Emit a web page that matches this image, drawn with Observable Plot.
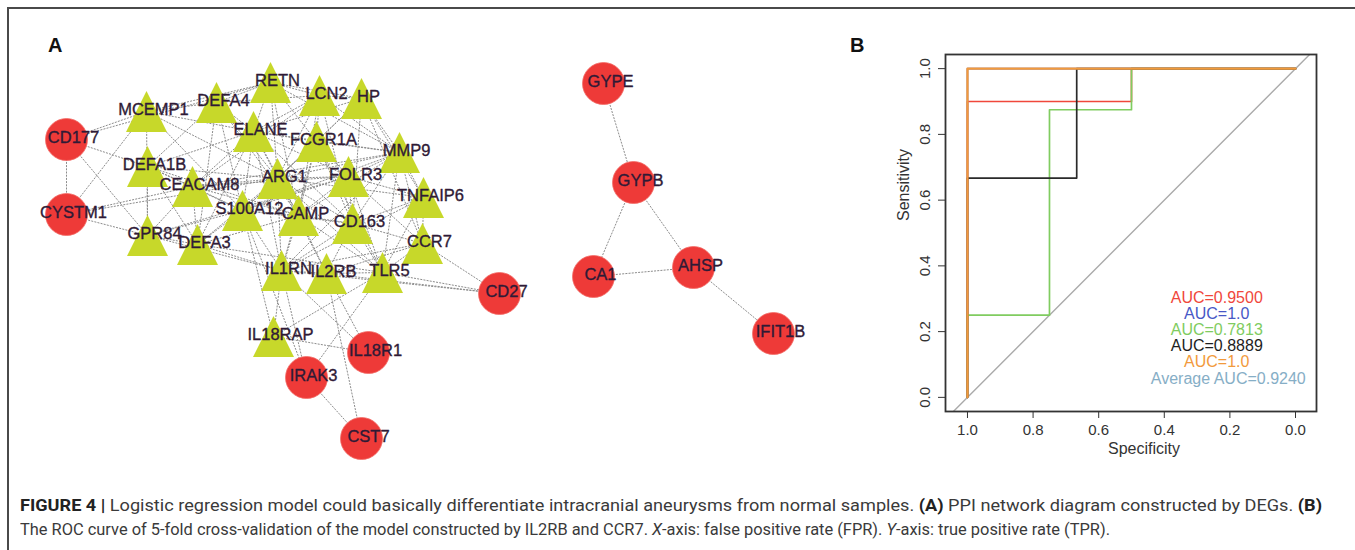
<!DOCTYPE html>
<html>
<head>
<meta charset="utf-8">
<script src="https://cdn.jsdelivr.net/npm/d3@7"></script>
<script src="https://cdn.jsdelivr.net/npm/@observablehq/plot@0.6"></script>
<style>
  html, body { margin: 0; padding: 0; background: #fff; }
  #fig { position: relative; width: 1355px; height: 550px; overflow: hidden; background: #fff; font-family: "Liberation Sans", Arial, sans-serif; }
  #frame { position: absolute; left: 7px; top: 7px; width: 1348px; height: 543px; border-top: 2px solid #4a4a4a; border-left: 2px solid #4a4a4a; }
  .panel { position: absolute; top: 0; }
  .plabel { position: absolute; font-weight: bold; font-size: 20px; color: #111; line-height: 20px; }
  .cap { position: absolute; left: 20px; font-family: Roboto, "Liberation Sans", sans-serif; font-size: 16px; color: #3a3a3a; white-space: nowrap; line-height: 24px; transform-origin: 0 50%; }
  .cap b { color: #222; }
</style>
</head>
<body>
<div id="fig">
  <div id="frame"></div>
  <div id="panelA" class="panel" style="left:0"></div>
  <div id="panelB" class="panel" style="left:830px"></div>
  <div class="plabel" style="left:48px;top:35px">A</div>
  <div class="plabel" style="left:850px;top:35px">B</div>
  <div id="cap1" class="cap" style="top:494px"><b>FIGURE 4 |</b> Logistic regression model could basically differentiate intracranial aneurysms from normal samples. <b>(A)</b> PPI network diagram constructed by DEGs. <b>(B)</b></div>
  <div id="cap2" class="cap" style="top:518px">The ROC curve of 5-fold cross-validation of the model constructed by IL2RB and CCR7. <i>X</i>-axis: false positive rate (FPR). <i>Y</i>-axis: true positive rate (TPR).</div>
</div>
<script>
// ---------- Panel A: PPI network (layout coordinates) ----------
const circleGenes = ["CD177","CYSTM1","GYPE","GYPB","CA1","AHSP","IFIT1B","CD27","IL18R1","IRAK3","CST7"];
const circleX = [66, 66, 603, 633, 593, 693, 773, 499, 368, 306, 361];
const circleY = [139, 214, 83, 182, 276, 267, 333, 293, 352, 377, 438];

const triGenes = ["RETN","DEFA4","MCEMP1","LCN2","HP","ELANE","FCGR1A","MMP9","DEFA1B","CEACAM8","ARG1","FOLR3","TNFAIP6","S100A12","CAMP","CD163","CCR7","GPR84","DEFA3","IL1RN","IL2RB","TLR5","IL18RAP"];
const triX = [270, 216, 146, 319, 361, 253, 316, 399, 147, 192, 277, 348, 423, 242, 298, 352, 422, 147, 197, 281, 326, 382, 273];
const triY = [82, 102, 111, 95, 98, 131, 141, 152, 166, 186, 178, 176, 197, 210, 215, 223, 243, 235, 244, 270, 273, 272, 336];

const edgeList = [
  "CD177-CYSTM1","CD177-MCEMP1","CD177-DEFA1B","CD177-GPR84","CD177-RETN",
  "CYSTM1-GPR84","CYSTM1-MCEMP1","CYSTM1-CEACAM8","CYSTM1-ARG1",
  "MCEMP1-DEFA4","MCEMP1-RETN","MCEMP1-ARG1","MCEMP1-GPR84","MCEMP1-ELANE","MCEMP1-S100A12",
  "DEFA4-RETN","DEFA4-ELANE","DEFA4-DEFA1B","DEFA4-DEFA3","DEFA4-CAMP","DEFA4-ARG1","DEFA4-LCN2","DEFA4-S100A12",
  "RETN-LCN2","RETN-HP","RETN-ELANE","RETN-MMP9","RETN-ARG1","RETN-FCGR1A","RETN-CAMP",
  "LCN2-HP","LCN2-ELANE","LCN2-MMP9","LCN2-FCGR1A","LCN2-CAMP","LCN2-ARG1","LCN2-CEACAM8","LCN2-CD163",
  "HP-MMP9","HP-FCGR1A","HP-ELANE","HP-CD163","HP-TNFAIP6","HP-CCR7","HP-ARG1",
  "ELANE-FCGR1A","ELANE-ARG1","ELANE-CEACAM8","ELANE-CAMP","ELANE-MMP9","ELANE-S100A12","ELANE-DEFA1B","ELANE-DEFA3","ELANE-FOLR3","ELANE-IL1RN","ELANE-CD163",
  "FCGR1A-MMP9","FCGR1A-ARG1","FCGR1A-FOLR3","FCGR1A-CD163","FCGR1A-S100A12","FCGR1A-CAMP","FCGR1A-IL1RN","FCGR1A-TLR5",
  "MMP9-FOLR3","MMP9-TNFAIP6","MMP9-ARG1","MMP9-S100A12","MMP9-CAMP","MMP9-CD163","MMP9-CCR7","MMP9-TLR5","MMP9-IL1RN","MMP9-CEACAM8",
  "DEFA1B-CEACAM8","DEFA1B-ARG1","DEFA1B-DEFA3","DEFA1B-GPR84","DEFA1B-S100A12","DEFA1B-CAMP",
  "CEACAM8-ARG1","CEACAM8-S100A12","CEACAM8-CAMP","CEACAM8-GPR84","CEACAM8-DEFA3","CEACAM8-FOLR3",
  "ARG1-FOLR3","ARG1-S100A12","ARG1-CAMP","ARG1-CD163","ARG1-IL1RN","ARG1-IL2RB","ARG1-TLR5","ARG1-TNFAIP6","ARG1-DEFA3",
  "FOLR3-TNFAIP6","FOLR3-CD163","FOLR3-CAMP","FOLR3-S100A12","FOLR3-CCR7","FOLR3-TLR5","FOLR3-GPR84",
  "TNFAIP6-CCR7","TNFAIP6-CD163","TNFAIP6-TLR5","TNFAIP6-IL1RN",
  "S100A12-CAMP","S100A12-GPR84","S100A12-DEFA3","S100A12-IL1RN","S100A12-IL18RAP","S100A12-CD163",
  "CAMP-CD163","CAMP-IL1RN","CAMP-IL2RB","CAMP-TLR5","CAMP-DEFA3",
  "CD163-CCR7","CD163-TLR5","CD163-IL1RN","CD163-IL2RB",
  "CCR7-TLR5","CCR7-IL2RB","CCR7-IL1RN","CCR7-CD27",
  "GPR84-DEFA3","GPR84-IL1RN","DEFA3-IL1RN","DEFA3-TLR5",
  "IL1RN-IL2RB","IL1RN-IL18RAP","IL1RN-IL18R1","IL1RN-IRAK3","IL1RN-CD27",
  "IL2RB-TLR5","IL2RB-CST7","IL2RB-IL18R1","IL2RB-CD27",
  "TLR5-CD27","TLR5-IRAK3","TLR5-IL18RAP",
  "IL18RAP-IL18R1","IRAK3-CST7","S100A12-IRAK3",
  "GYPE-GYPB","GYPB-CA1","GYPB-AHSP","CA1-AHSP","AHSP-IFIT1B"
];

const nodes = [
  ...circleGenes.map((g, i) => ({gene: g, x: circleX[i], y: circleY[i], shape: "circle"})),
  ...triGenes.map((g, i) => ({gene: g, x: triX[i], y: triY[i], shape: "triangle"}))
];
const pos = new Map(nodes.map(n => [n.gene, n]));
const edges = edgeList.map(e => { const [a, b] = e.split("-"); return {a: pos.get(a), b: pos.get(b)}; });

const triangleSymbol = {
  draw(ctx, size) {
    const r = Math.sqrt(size / Math.PI);
    ctx.moveTo(0, -r);
    ctx.lineTo(r, r);
    ctx.lineTo(-r, r);
    ctx.closePath();
  }
};

const W_A = 830, H_A = 470;
const plotA = Plot.plot({
  width: W_A, height: H_A,
  margin: 0,
  x: {domain: [0, W_A], range: [0, W_A], axis: null},
  y: {domain: [0, H_A], range: [0, H_A], axis: null},
  style: {background: "transparent", overflow: "visible"},
  marks: [
    Plot.link(edges, {x1: d => d.a.x, y1: d => d.a.y, x2: d => d.b.x, y2: d => d.b.y, stroke: "#8c8c8c", strokeWidth: 1, strokeDasharray: "2,1.2"}),
    Plot.dot(nodes.filter(n => n.shape === "circle"), {x: "x", y: "y", r: 21, fill: "#ee3a38", stroke: "#f26b66", strokeWidth: 0.8}),
    Plot.dot(nodes.filter(n => n.shape === "triangle"), {x: "x", y: "y", r: 20.5, symbol: triangleSymbol, fill: "#c7d82a"}),
    Plot.text(nodes, {x: "x", y: "y", text: "gene", dx: 7, dy: -2, fontSize: 16.5, fill: "#2f1a36", stroke: "#2f1a36", strokeWidth: 0.35, fontFamily: "'Liberation Sans', Arial, sans-serif"})
  ]
});
document.getElementById("panelA").appendChild(plotA);

// ---------- Panel B: ROC curves of 5-fold cross-validation ----------
const fold1Spec = [1, 1, 0.5, 0.5, 0];
const fold1Sens = [0, 0.9, 0.9, 1, 1];
const fold2Spec = [1, 1, 0];
const fold2Sens = [0, 1, 1];
const fold3Spec = [1, 1, 0.75, 0.75, 0.5, 0.5, 0];
const fold3Sens = [0, 0.25, 0.25, 0.875, 0.875, 1, 1];
const fold4Spec = [1, 1, 0.667, 0.667, 0];
const fold4Sens = [0, 0.667, 0.667, 1, 1];
const fold5Spec = [1, 1, 0];
const fold5Sens = [0, 1, 1];
const foldColors = ["#f0473b", "#4858c6", "#80cc60", "#2a2a2a", "#f29a3c"];
const aucLabels = ["AUC=0.9500", "AUC=1.0", "AUC=0.7813", "AUC=0.8889", "AUC=1.0", "Average AUC=0.9240"];
const aucColors = ["#f0473b", "#4858c6", "#80cc60", "#1e1e1e", "#f29a3c", "#86aec6"];
const xTicks = [1.0, 0.8, 0.6, 0.4, 0.2, 0.0];
const yTicks = [0.0, 0.2, 0.4, 0.6, 0.8, 1.0];
const diagSpec = [1.2, -0.2];
const diagSens = [-0.2, 1.2];

const folds = [
  [fold1Spec, fold1Sens], [fold2Spec, fold2Sens], [fold3Spec, fold3Sens], [fold4Spec, fold4Sens], [fold5Spec, fold5Sens]
].flatMap(([sp, se], k) => sp.map((s, i) => ({fold: k, spec: s, sens: se[i]})));
const diag = diagSpec.map((s, i) => ({spec: s, sens: diagSens[i]}));
const legend = aucLabels.map((t, i) => ({t, c: aucColors[i], i}));

const W_B = 525, H_B = 470;
const plotB = Plot.plot({
  width: W_B, height: H_B,
  marginLeft: 115, marginRight: 39, marginTop: 54, marginBottom: 59,
  x: {domain: [1.067, -0.064], ticks: xTicks},
  y: {domain: [-0.043, 1.043], ticks: yTicks},
  style: {fontFamily: "'Liberation Sans', Arial, sans-serif", fontSize: "15px", color: "#333", background: "transparent", overflow: "visible"},
  marks: [
    Plot.line(diag, {x: "spec", y: "sens", stroke: "#aaaaaa", strokeWidth: 1.4, clip: true}),
    Plot.line(folds.filter(d => d.fold < 4), {x: "spec", y: "sens", z: "fold", stroke: d => foldColors[d.fold], strokeWidth: 1.7}),
    Plot.line(folds.filter(d => d.fold === 4), {x: "spec", y: "sens", stroke: foldColors[4], strokeWidth: 2.3}),
    Plot.frame({stroke: "#333", strokeWidth: 1.8}),
    Plot.axisX({ticks: xTicks, tickFormat: d => d.toFixed(1), tickSize: 7, tickPadding: 6, label: null, stroke: "#333", fill: "#333"}),
    Plot.axisY({ticks: yTicks, tickFormat: d => d.toFixed(1), tickSize: 7, tickPadding: 9, tickRotate: -90, label: null, stroke: "#333", fill: "#333"}),
    Plot.text(["Specificity"], {frameAnchor: "bottom", dx: 13, dy: 42, fontSize: 16, fill: "#333"}),
    Plot.text(["Sensitivity"], {frameAnchor: "left", rotate: -90, dx: -42, dy: -12, fontSize: 16, fill: "#333"}),
    Plot.text(legend, {x: d => d.t.startsWith("Average") ? 0.205 : 0.24, y: d => 0.304 - d.i * 0.0493, text: "t", fill: "c", fontSize: 16})
  ]
});
document.getElementById("panelB").appendChild(plotB);

// fit caption lines to their measured extents in the reference
function fit(id, target) {
  const el = document.getElementById(id);
  const w = el.getBoundingClientRect().width;
  if (w > 0) el.style.transform = `scaleX(${target / w})`;
}
fit("cap1", 1302);
fit("cap2", 1090);
</script>
</body>
</html>
